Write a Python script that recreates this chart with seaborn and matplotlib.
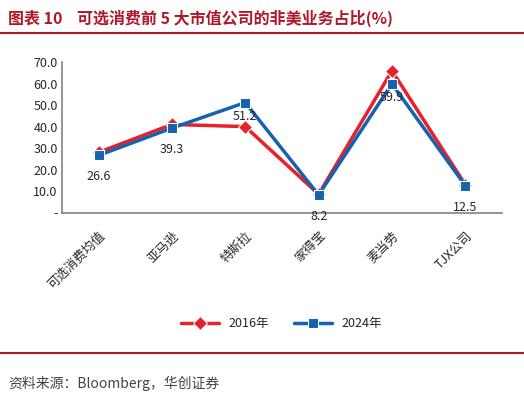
import matplotlib
matplotlib.use("Agg")
import matplotlib.pyplot as plt
import seaborn as sns
import pandas as pd

categories = ["可选消费均值", "亚马逊", "特斯拉", "家得宝", "麦当劳", "TJX公司"]
v2016 = [28.0, 41.0, 40.0, 8.5, 66.0, 13.0]
v2024 = [26.6, 39.3, 51.2, 8.2, 59.9, 12.5]
yticks = [0, 10, 20, 30, 40, 50, 60, 70]
ytick_labels = ["-", "10.0", "20.0", "30.0", "40.0", "50.0", "60.0", "70.0"]

sns.set_theme(style="white")
plt.rcParams['font.family'] = ['Noto Sans CJK SC', 'DejaVu Sans']

df = pd.DataFrame({"cat": categories * 2,
                   "val": v2016 + v2024,
                   "series": ["2016年"] * 6 + ["2024年"] * 6})

fig = plt.figure(figsize=(5.24, 4.01), dpi=100)
ax = fig.add_axes([0.118, 0.47, 0.84, 0.375])
sns.lineplot(data=df, x="cat", y="val", hue="series", style="series",
             palette={"2016年": "#E8202A", "2024年": "#1563B0"},
             markers={"2016年": "D", "2024年": "s"}, dashes=False,
             markersize=7, linewidth=2.5, sort=False, ax=ax, legend=True)
ax.set_ylim(0, 70)
ax.set_yticks(yticks)
ax.set_yticklabels(ytick_labels, fontsize=9)
ax.set_xlim(-0.5, 5.5)
ax.set_xticks(range(6))
ax.set_xticklabels(categories, rotation=45, ha="right", rotation_mode="anchor", fontsize=9)
ax.set_xlabel(""); ax.set_ylabel("")
for s in ["top", "right"]:
    ax.spines[s].set_visible(False)
for s in ["left", "bottom"]:
    ax.spines[s].set_color("#888888")
ax.tick_params(axis="y", length=0, pad=3)
ax.tick_params(axis="x", length=0, pad=12)
for i, v in enumerate(v2024):
    ax.text(i, v - 7 if i not in (2, 4) else v - 3.5, f"{v}", ha="center", va="top", fontsize=9)
ax.legend(loc="upper center", bbox_to_anchor=(0.5, -0.62), ncol=2, frameon=False, fontsize=9, handlelength=3)

fig.text(0.015, 0.955, "图表 10    可选消费前 5 大市值公司的非美业务占比(%)", fontsize=11.5,
         fontweight="bold", color="#B0182A", va="center")
fig.add_artist(plt.Line2D([0.0, 1.0], [0.918, 0.918], color="#B0182A", lw=1.5))
fig.add_artist(plt.Line2D([0.0, 1.0], [0.12, 0.12], color="#B0182A", lw=1.5))
fig.text(0.015, 0.045, "资料来源：Bloomberg，华创证券", fontsize=10, style="italic", color="#444444", va="center")
fig.savefig("out.png", dpi=100)
